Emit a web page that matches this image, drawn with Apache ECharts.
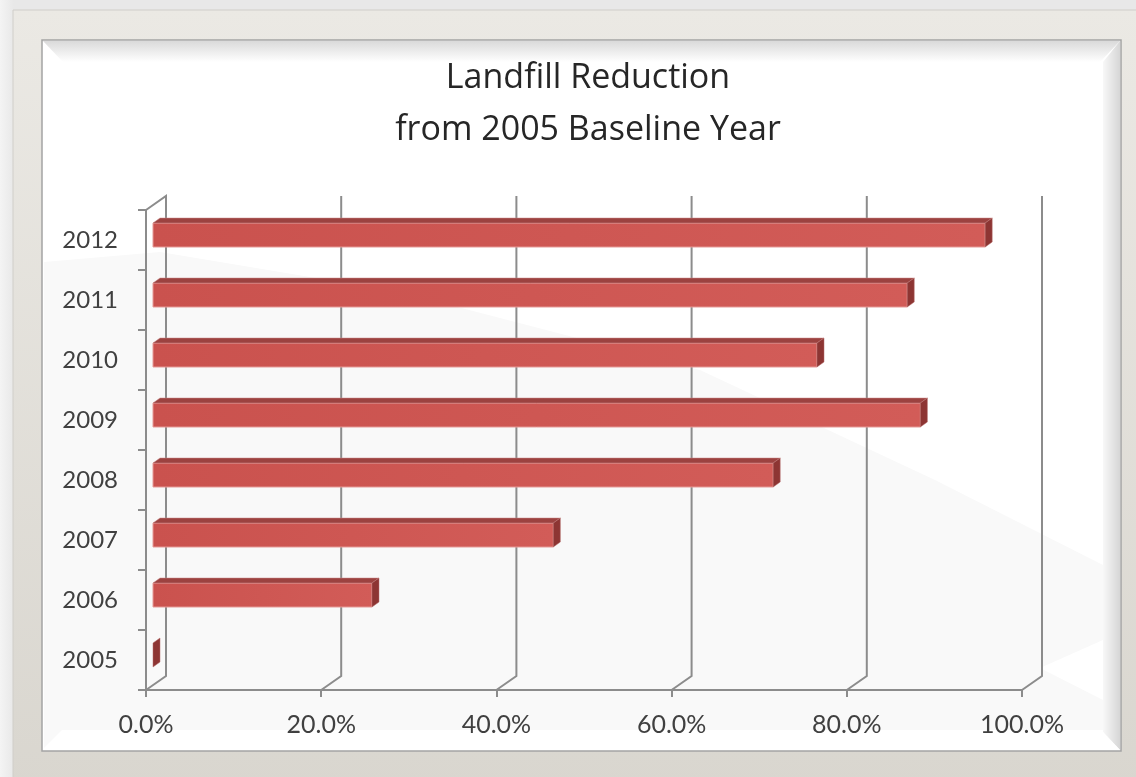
<!DOCTYPE html>
<html>
<head>
<meta charset="utf-8">
<script src="https://cdn.jsdelivr.net/npm/echarts@6/dist/echarts.min.js"></script>
<style>
html,body{margin:0;padding:0;background:#ececec;}
#chart{width:1136px;height:777px;}
</style>
</head>
<body>
<div id="chart"></div>
<script>
// ---- data ----
var categories = ['2005', '2006', '2007', '2008', '2009', '2010', '2011', '2012'];
var reduction = [0, 25.0, 45.7, 70.8, 87.6, 75.8, 86.1, 95.0];
var xTicks = [0, 20, 40, 60, 80, 100];
var titleText = 'Landfill Reduction\nfrom 2005 Baseline Year';

// ---- chart ----
var chart = echarts.init(document.getElementById('chart'), null, {renderer: 'canvas'});
var FONT = 'Lato, "Open Sans", sans-serif';
var TFONT = '"Open Sans", Lato, sans-serif';
var DX = 20, DY = -14;       // back-wall offset
var BDX = 7, BDY = -5;       // bar depth offset

var barData = reduction.map(function (v, i) { return [v, i]; });
var gridData = xTicks.map(function (v) { return [v, 0]; });

var option = {
  animation: false,
  backgroundColor: 'transparent',
  graphic: [
    { type: 'rect', z: -10, silent: true, shape: {x: 0, y: 0, width: 1136, height: 777},
      style: {fill: new echarts.graphic.LinearGradient(0, 0, 1, 0, [{offset: 0, color: '#f4f4f4'}, {offset: 0.012, color: '#e8e8e8'}, {offset: 1, color: '#e8e8e8'}])} },
    { type: 'rect', z: -9, silent: true, shape: {x: 13, y: 10, width: 1130, height: 780},
      style: {fill: new echarts.graphic.LinearGradient(0, 0, 0, 1, [{offset: 0, color: '#ebe9e4'}, {offset: 1, color: '#d9d6cf'}]), stroke: '#d0cec9', lineWidth: 1} },
    { type: 'rect', z: -8, silent: true, shape: {x: 42, y: 40, width: 1079, height: 711},
      style: {fill: '#ffffff', stroke: '#a4a4a4', lineWidth: 1.5} },
    // lower light-gray wash
    { type: 'polygon', z: -7, silent: true,
      shape: {points: [[44, 262], [160, 252], [400, 292], [700, 370], [935, 480], [1103, 565], [1103, 640], [1040, 668], [1103, 700], [1103, 730], [62, 730], [44, 748]]},
      style: {fill: '#f9f9f9'} },
    // top bevel
    { type: 'polygon', z: -6, silent: true, shape: {points: [[43, 41], [1120, 41], [1100, 62], [63, 62]]},
      style: {fill: new echarts.graphic.LinearGradient(0, 0, 0, 1, [{offset: 0, color: '#dadada'}, {offset: 1, color: '#ffffff'}])} },
    // right bevel
    { type: 'polygon', z: -6, silent: true, shape: {points: [[1120, 41], [1120, 750], [1103, 732], [1103, 62]]},
      style: {fill: new echarts.graphic.LinearGradient(0, 0, 1, 0, [{offset: 0, color: '#f8f8f8'}, {offset: 1, color: '#d6d6d6'}])} },
    // bottom bevel
    { type: 'polygon', z: -6, silent: true, shape: {points: [[43, 750], [1120, 750], [1103, 732], [62, 732]]},
      style: {fill: '#ffffff'} }
  ],
  title: {
    text: titleText,
    left: 583, top: 47, textAlign: 'center',
    textStyle: {fontFamily: TFONT, fontSize: 34, fontWeight: 'normal', lineHeight: 52, color: '#262626'}
  },
  grid: {left: 146, right: 114, top: 210, bottom: 87, containLabel: false},
  xAxis: {
    type: 'value', min: 0, max: 100, interval: 20,
    axisLine: {show: true, lineStyle: {color: '#8c8c8c', width: 2}},
    axisTick: {show: true, length: 7, lineStyle: {color: '#8c8c8c', width: 2}},
    splitLine: {show: false},
    axisLabel: {margin: 22, fontFamily: FONT, fontSize: 25, color: '#404040',
      formatter: function (v) { return v.toFixed(1) + '%'; }}
  },
  yAxis: {
    type: 'category', data: categories,
    axisLine: {show: true, lineStyle: {color: '#8c8c8c', width: 2}},
    axisTick: {show: true, length: 8, lineStyle: {color: '#8c8c8c', width: 2}},
    axisLabel: {margin: 28, fontFamily: FONT, fontSize: 24, color: '#404040'},
    splitLine: {show: false}
  },
  series: [
    {
      type: 'custom', name: 'grid', silent: true, z: 1,
      data: gridData,
      encode: {x: 0, y: 1},
      renderItem: function (params, api) {
        var v = api.value(0);
        var cs = params.coordSys;
        var x = api.coord([v, 0])[0];
        var top = cs.y, bot = cs.y + cs.height;
        var pts = [[x + DX, top + DY], [x + DX, bot + DY], [x, bot]];
        if (v === 0) pts.unshift([x, top]);
        return {type: 'polyline', shape: {points: pts},
          style: {stroke: '#8c8c8c', lineWidth: 2, fill: null}};
      }
    },
    {
      type: 'custom', name: 'Reduction', z: 5,
      data: barData,
      encode: {x: 0, y: 1},
      renderItem: function (params, api) {
        var v = api.value(0), c = api.value(1);
        var p0 = api.coord([0, c]);
        var p1 = api.coord([v, c]);
        var cy = p0[1];
        var top = cy - 17, bot = cy + 7;
        var x0 = p0[0] + BDX, x1 = p1[0] + BDX;
        var children = [];
        if (x1 - x0 > 0.5) {
          children.push({type: 'rect', shape: {x: x0, y: top, width: x1 - x0, height: bot - top},
            style: {fill: new echarts.graphic.LinearGradient(0, 0, 1, 0, [{offset: 0, color: '#ca524e'}, {offset: 1, color: '#d25c58'}]),
              stroke: '#e59a97', lineWidth: 1}});
          children.push({type: 'polygon', shape: {points: [[x0, top], [x1, top], [x1 + BDX, top + BDY], [x0 + BDX, top + BDY]]},
            style: {fill: '#9c4240', stroke: '#c98a88', lineWidth: 0.5}});
        }
        children.push({type: 'polygon', shape: {points: [[x1, top], [x1 + BDX, top + BDY], [x1 + BDX, bot + BDY], [x1, bot]]},
          style: {fill: '#8d3533', stroke: '#b76e6c', lineWidth: 0.5}});
        return {type: 'group', children: children};
      }
    }
  ]
};
chart.setOption(option);
</script>
</body>
</html>
